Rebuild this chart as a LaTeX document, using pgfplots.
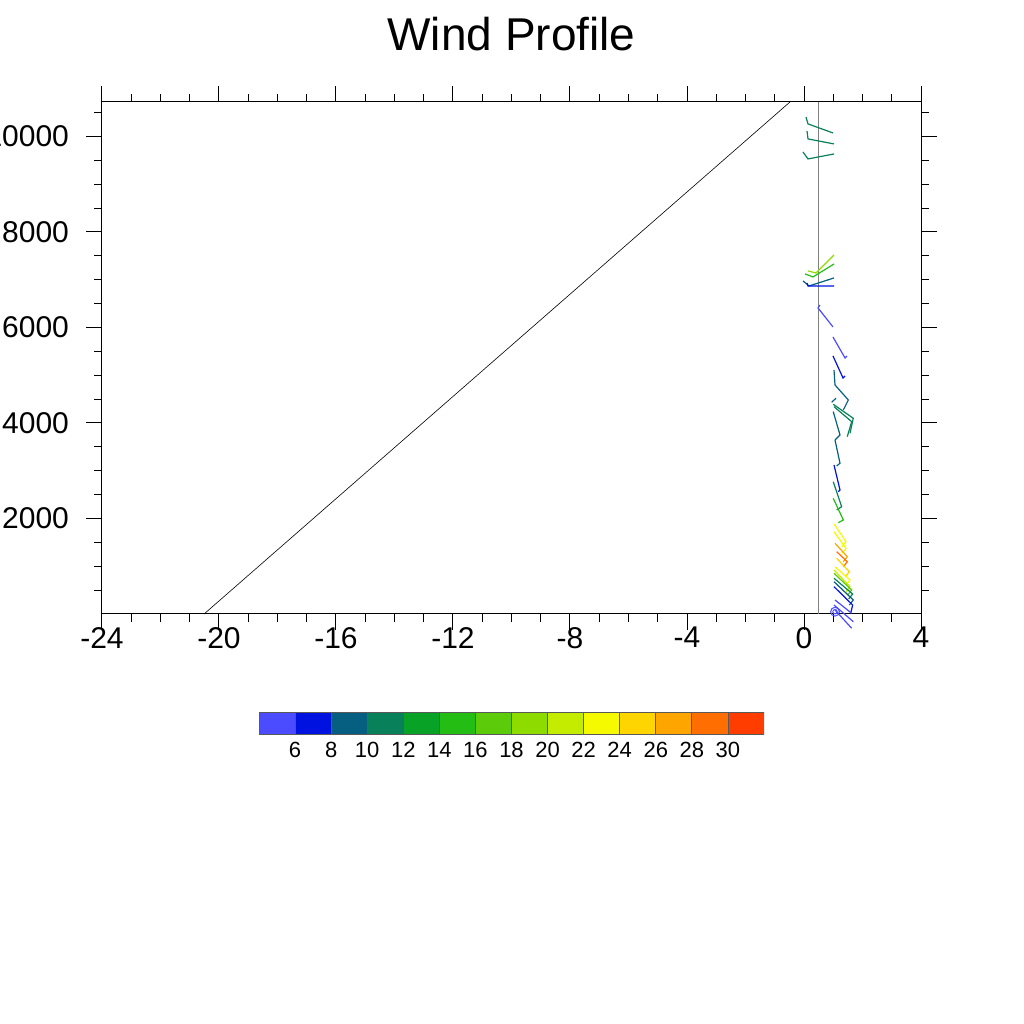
\documentclass[border=0pt]{standalone}
\usepackage{pgfplots}
\pgfplotsset{compat=1.18}
\usepackage{fontspec}
\setmainfont{Liberation Sans}
\definecolor{cb1}{HTML}{4B4BFF}
\definecolor{cb2}{HTML}{0012E0}
\definecolor{cb3}{HTML}{065E80}
\definecolor{cb4}{HTML}{08805A}
\definecolor{cb5}{HTML}{08A326}
\definecolor{cb6}{HTML}{24BD14}
\definecolor{cb7}{HTML}{5CCB0A}
\definecolor{cb8}{HTML}{8EDB00}
\definecolor{cb9}{HTML}{C3EC00}
\definecolor{cb10}{HTML}{F5FA00}
\definecolor{cb11}{HTML}{FFD500}
\definecolor{cb12}{HTML}{FFA500}
\definecolor{cb13}{HTML}{FF6E00}
\definecolor{cb14}{HTML}{FF3D00}
\begin{document}
\begin{tikzpicture}
\useasboundingbox (0,0) rectangle (512pt,512pt);
\begin{axis}[
  at={(51pt,205pt)}, anchor=south west,
  scale only axis, width=409.5pt, height=256pt,
  xmin=-24, xmax=4, ymin=0, ymax=10720,
  clip=false,
  scaled y ticks=false, scaled x ticks=false,
  axis line style={line width=0.5pt},
  tick align=outside,
  major tick length=8pt, minor tick length=4pt,
  tick style={black, line width=0.5pt},
  xtick={-24,-20,-16,-12,-8,-4,0,4},
  xticklabels={-24,-20,-16,-12,-8,-4,0,4},
  minor xtick={-23,-22,-21,-19,-18,-17,-15,-14,-13,-11,-10,-9,-7,-6,-5,-3,-2,-1,1,2,3},
  ytick={2000,4000,6000,8000,10000},
  yticklabels={2000,4000,6000,8000,10000},
  minor ytick={500,1000,1500,2500,3000,3500,4500,5000,5500,6500,7000,7500,8500,9000,9500,10500},
  tick label style={font=\fontsize{15}{18}\selectfont},
  y tick label style={xshift=-5pt},
  x tick label style={yshift=5pt},
  title={Wind Profile},
  title style={at={(0.5,1)}, anchor=base, yshift=19.5pt, font=\fontsize{23}{27}\selectfont},
  barb/.style={line width=0.6pt, mark=none},
]
% reference lines
\addplot[black, line width=0.3pt, mark=none] coordinates {(-20.51,0) (-0.48,10720)};
\addplot[gray, line width=0.4pt, mark=none] coordinates {(0.5,0) (0.5,10720)};
% upper barbs
\addplot[barb, cb4] coordinates {(0.991,10072) (0.137,10261) (0.068,10407)};
\addplot[barb, cb4] coordinates {(1.026,9842) (0.137,9947) (0.103,10114)};
\addplot[barb, cb4] coordinates {(1.026,9632) (0.137,9528) (-0.034,9674)};
\addplot[barb, cb8] coordinates {(1.026,7517) (0.41,7140) (0.137,7182)};
\addplot[barb, cb6] coordinates {(1.026,7329) (0.308,7057) (0.034,7120)};
\addplot[barb, cb3] coordinates {(1.026,7036) (0.171,6868) (-0.034,6973)};
\addplot[barb, cb2] coordinates {(1.026,6868) (0.137,6868) (0.103,6931)};
% middle barbs
\addplot[barb, cb1] coordinates {(0.991,6010) (0.479,6408) (0.547,6470)};
\addplot[barb, cb1] coordinates {(0.991,5800) (1.402,5361) (1.47,5403)};
\addplot[barb, cb2] coordinates {(0.991,5403) (1.333,4942) (1.402,4984)};
\addplot[barb, cb3] coordinates {(1.026,5109) (1.06,4795) (1.515,4481) (1.345,4272)};
\addplot[barb, cb3] coordinates {(0.946,4433) (1.094,4517)};
\addplot[barb, cb4] coordinates {(1.0,4391) (1.684,4098) (1.573,3784)};
\addplot[barb, cb4] coordinates {(1.026,4341) (1.63,4027) (1.48,3713)};
\addplot[barb, cb3] coordinates {(1.0,4237) (1.231,3748) (1.06,3644)};
\addplot[barb, cb3] coordinates {(1.06,3644) (1.231,3156) (1.117,3099)};
\addplot[barb, cb2] coordinates {(1.026,3120) (1.231,2597) (1.174,2561)};
\addplot[barb, cb4] coordinates {(1.0,2770) (1.288,2247) (1.117,2178)};
\addplot[barb, cb6] coordinates {(1.0,2423) (1.345,1968) (1.174,1912)};
% lower barbs
\addplot[barb, cb10] coordinates {(1.026,1885) (1.436,1514) (1.30,1409)};
\addplot[barb, cb10] coordinates {(1.026,1723) (1.436,1376) (1.30,1271)};
\addplot[barb, cb12] coordinates {(1.06,1480) (1.48,1200) (1.343,1095)};
\addplot[barb, cb13] coordinates {(1.117,1305) (1.48,1095) (1.343,990)};
\addplot[barb, cb11] coordinates {(1.117,1166) (1.55,886) (1.413,781)};
\addplot[barb, cb10] coordinates {(1.06,990) (1.573,712) (1.436,607)};
\addplot[barb, cb9] coordinates {(1.026,921) (1.573,572) (1.436,467)};
\addplot[barb, cb7] coordinates {(1.026,852) (1.632,503) (1.495,398)};
\addplot[barb, cb4] coordinates {(1.026,748) (1.664,419) (1.527,314)};
\addplot[barb, cb3] coordinates {(1.026,676) (1.686,293) (1.549,188)};
\addplot[barb, cb2] coordinates {(1.026,572) (1.664,188) (1.596,15)};
\addplot[barb, cb1] coordinates {(1.06,293) (1.63,15)};
\addplot[barb, cb1] coordinates {(1.026,188) (1.686,-161)};
\addplot[barb, cb1] coordinates {(1.06,84) (1.63,-299)};
\addplot[cb1, only marks, mark=o, mark size=2.2pt, mark options={line width=0.5pt}] coordinates {(1.06,48)};
\addplot[cb1, only marks, mark=o, mark size=1.1pt, mark options={line width=0.5pt}] coordinates {(1.06,48)};
\end{axis}
\begin{axis}[
  at={(129.5pt,145pt)}, anchor=south west,
  scale only axis, width=252.5pt, height=11pt,
  xmin=4, xmax=32, ymin=0, ymax=1,
  axis line style={draw=none},
  ytick=\empty,
  xtick={6,8,10,12,14,16,18,20,22,24,26,28,30},
  xticklabels={6,8,10,12,14,16,18,20,22,24,26,28,30},
  major tick length=0pt,
  typeset ticklabels with strut,
  tick label style={font=\fontsize{11}{13}\selectfont},
  x tick label style={yshift=1pt},
  cb/.style={draw=black!65, line width=0.4pt, mark=none},
]
\addplot[cb, fill=cb1] coordinates {(4,1) (6,1)} \closedcycle;
\addplot[cb, fill=cb2] coordinates {(6,1) (8,1)} \closedcycle;
\addplot[cb, fill=cb3] coordinates {(8,1) (10,1)} \closedcycle;
\addplot[cb, fill=cb4] coordinates {(10,1) (12,1)} \closedcycle;
\addplot[cb, fill=cb5] coordinates {(12,1) (14,1)} \closedcycle;
\addplot[cb, fill=cb6] coordinates {(14,1) (16,1)} \closedcycle;
\addplot[cb, fill=cb7] coordinates {(16,1) (18,1)} \closedcycle;
\addplot[cb, fill=cb8] coordinates {(18,1) (20,1)} \closedcycle;
\addplot[cb, fill=cb9] coordinates {(20,1) (22,1)} \closedcycle;
\addplot[cb, fill=cb10] coordinates {(22,1) (24,1)} \closedcycle;
\addplot[cb, fill=cb11] coordinates {(24,1) (26,1)} \closedcycle;
\addplot[cb, fill=cb12] coordinates {(26,1) (28,1)} \closedcycle;
\addplot[cb, fill=cb13] coordinates {(28,1) (30,1)} \closedcycle;
\addplot[cb, fill=cb14] coordinates {(30,1) (32,1)} \closedcycle;
\end{axis}
\end{tikzpicture}
\end{document}
